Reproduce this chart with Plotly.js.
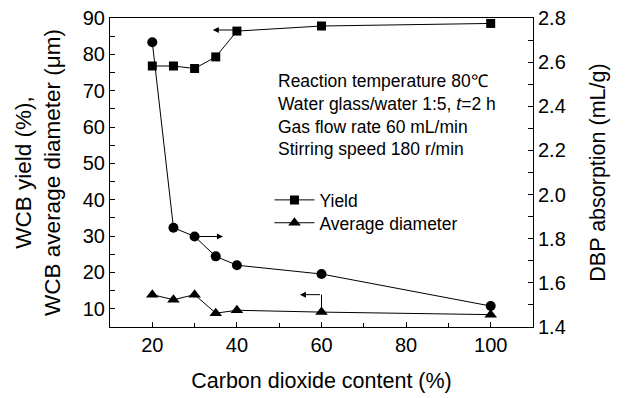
<!DOCTYPE html>
<html>
<head>
<meta charset="utf-8">
<script src="https://cdn.plot.ly/plotly-3.0.1.min.js"></script>
<style>html,body{margin:0;padding:0;background:#fff;}#chart{width:627px;height:398px;}</style>
</head>
<body>
<div id="chart"></div>
<script>
// Data
var co2 = [20, 25, 30, 35, 40, 60, 100];
var yieldPct = [76.8, 76.8, 76.1, 79.3, 86.4, 87.8, 88.5];
var avgDiameter = [13.9, 12.5, 13.9, 8.8, 9.6, 9.1, 8.4];
var dbp = [2.69, 1.85, 1.81, 1.72, 1.68, 1.64, 1.495];
var xTicks = [20, 40, 60, 80, 100];
var yLeftTicks = [10, 20, 30, 40, 50, 60, 70, 80, 90];
var yRightTicks = [1.4, 1.6, 1.8, 2.0, 2.2, 2.4, 2.6, 2.8];
var conditions = ["Reaction temperature 80\u2103", "Water glass/water 1:5, <i>t</i>=2 h", "Gas flow rate 60 mL/min", "Stirring speed 180 r/min"];

var FONT = "Liberation Sans, Arial, sans-serif";
var line = {color: "#000", width: 1};

var traces = [
  {x: co2, y: yieldPct, name: "Yield", type: "scatter", mode: "lines+markers", legend: "legend",
   line: line, marker: {symbol: "square", size: 9, color: "#000"}, yaxis: "y"},
  {x: co2, y: avgDiameter, name: "Average diameter", type: "scatter", mode: "lines+markers", legend: "legend2",
   line: line, marker: {symbol: "triangle-up", size: 11, color: "#000"}, yaxis: "y"},
  {x: co2, y: dbp, name: "DBP absorption", type: "scatter", mode: "lines+markers",
   line: line, marker: {symbol: "circle", size: 10, color: "#000"}, yaxis: "y2", showlegend: false}
];

var legendStyle = function (yPos) {
  return {x: 0.377, y: yPos, xanchor: "left", yanchor: "middle", bgcolor: "rgba(0,0,0,0)",
          font: {family: FONT, size: 17.5, color: "#000"}, itemwidth: 40, borderwidth: 0};
};

var layout = {
  width: 627, height: 398,
  margin: {l: 110, r: 94, t: 18, b: 71},
  paper_bgcolor: "#fff", plot_bgcolor: "#fff",
  font: {family: FONT, color: "#000", size: 20},
  showlegend: true,
  legend: legendStyle(0.411),
  legend2: legendStyle(0.337),
  xaxis: {
    range: [10, 110], tickvals: xTicks, ticks: "inside", ticklen: 5, tickcolor: "#000",
    showline: true, linecolor: "#000", linewidth: 1, mirror: true, showgrid: false, zeroline: false,
    minor: {dtick: 10, ticks: "inside", ticklen: 4, tickcolor: "#000", showgrid: false},
    tickfont: {family: FONT, size: 20},
    title: {text: "Carbon dioxide content (%)", font: {family: FONT, size: 21.5}, standoff: 17}
  },
  yaxis: {
    range: [5, 90], tickvals: yLeftTicks, ticks: "inside", ticklen: 5, tickcolor: "#000",
    showline: true, linecolor: "#000", linewidth: 1, showgrid: false, zeroline: false,
    minor: {dtick: 5, ticks: "inside", ticklen: 5, tickcolor: "#000", showgrid: false},
    tickfont: {family: FONT, size: 20},
    title: {text: "WCB yield (%),<br>WCB average diameter (\u03bcm)", font: {family: FONT, size: 22.5}, standoff: 15}
  },
  yaxis2: {
    overlaying: "y", side: "right",
    range: [1.4, 2.8], tickvals: yRightTicks, ticktext: yRightTicks.map(function(v){return v.toFixed(1);}),
    ticks: "inside", ticklen: 5, tickcolor: "#000",
    showline: true, linecolor: "#000", linewidth: 1, showgrid: false, zeroline: false,
    minor: {dtick: 0.1, ticks: "inside", ticklen: 5, tickcolor: "#000", showgrid: false},
    tickfont: {family: FONT, size: 20},
    title: {text: "DBP absorption (mL/g)", font: {family: FONT, size: 21.5}, standoff: 25}
  },
  annotations: [
    {xref: "paper", yref: "paper", x: 0.393, y: 0.834, xanchor: "left", yanchor: "top", align: "left",
     showarrow: false, text: conditions.join("<br>"), font: {family: FONT, size: 17.5, color: "#000"}},
    // arrow from yield curve to left axis
    {xref: "x", yref: "y", axref: "x", ayref: "y", x: 34.3, y: 86.7, ax: 40, ay: 86.7,
     showarrow: true, arrowhead: 2, arrowsize: 1.2, arrowwidth: 1, arrowcolor: "#000", text: ""},
    // arrow from DBP curve to right axis
    {xref: "x", yref: "y2", axref: "x", ayref: "y2", x: 36.7, y: 1.81, ax: 30, ay: 1.81,
     showarrow: true, arrowhead: 2, arrowsize: 1.2, arrowwidth: 1, arrowcolor: "#000", text: ""},
    // arrow from diameter curve to left axis
    {xref: "x", yref: "y", axref: "x", ayref: "y", x: 54.9, y: 13.9, ax: 60, ay: 13.9,
     showarrow: true, arrowhead: 2, arrowsize: 1.2, arrowwidth: 1, arrowcolor: "#000", text: ""}
  ],
  shapes: [
    {type: "line", xref: "x", yref: "y", x0: 60, x1: 60, y0: 9.1, y1: 13.9, line: {color: "#000", width: 1}}
  ]
};

Plotly.newPlot("chart", traces, layout, {displayModeBar: false, staticPlot: true});
</script>
</body>
</html>
